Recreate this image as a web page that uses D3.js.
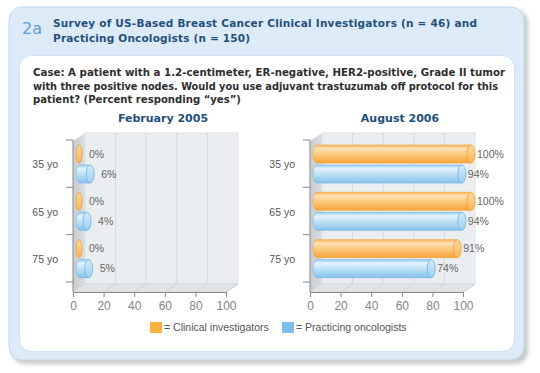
<!DOCTYPE html>
<html>
<head>
<meta charset="utf-8">
<script src="https://cdn.jsdelivr.net/npm/d3@7"></script>
<style>
  body { margin: 0; background: #fff; }
  svg { display: block; }
</style>
</head>
<body>
<div class="chart"></div>
<script>
// data
var ages = ["35 yo", "65 yo", "75 yo"];
var febClinical = [0, 0, 0];
var febOncologists = [6, 4, 5];
var augClinical = [100, 100, 91];
var augOncologists = [94, 94, 74];
var xTicks = [0, 20, 40, 60, 80, 100];

var svgWidth = 540, svgHeight = 373;

var svg = d3.select(".chart").append("svg")
  .attr("width", svgWidth)
  .attr("height", svgHeight);

var defs = svg.append("defs");

// soft shadow for the outer card
var f = defs.append("filter").attr("id", "blur").attr("x", "-5%").attr("y", "-5%").attr("width", "110%").attr("height", "110%");
f.append("feGaussianBlur").attr("stdDeviation", 2);

function vGrad(id, stops) {
  var g = defs.append("linearGradient").attr("id", id)
    .attr("x1", 0).attr("y1", 0).attr("x2", 0).attr("y2", 1);
  stops.forEach(function(s) {
    g.append("stop").attr("offset", s[0]).attr("stop-color", s[1]);
  });
}
vGrad("gOrange", [[0, "#f9b75a"], [0.2, "#fee2b6"], [0.6, "#fcc272"], [1, "#f7a53a"]]);
vGrad("gBlue", [[0, "#9dcff1"], [0.2, "#e4f2fc"], [0.6, "#b5dcf5"], [1, "#86c3ec"]]);
vGrad("gOrangeCap", [[0, "#fdd9a0"], [1, "#fbb656"]]);
vGrad("gBlueCap", [[0, "#d5ecfa"], [1, "#9ccff0"]]);
var sg = defs.append("linearGradient").attr("id", "gSide")
  .attr("x1", 0).attr("y1", 0).attr("x2", 1).attr("y2", 0);
sg.append("stop").attr("offset", 0).attr("stop-color", "#c9cdd1");
sg.append("stop").attr("offset", 1).attr("stop-color", "#d9dde0");

// card
svg.append("rect")
  .attr("x", 12).attr("y", 10).attr("width", 516).attr("height", 354)
  .attr("rx", 13).attr("fill", "#c8c8c8").attr("filter", "url(#blur)");
svg.append("rect")
  .attr("x", 9).attr("y", 7).attr("width", 515).attr("height", 353)
  .attr("rx", 13).attr("fill", "#dcebf7").attr("stroke", "#c3dbef");
svg.append("rect")
  .attr("x", 19.5).attr("y", 55.5).attr("width", 495).attr("height", 296)
  .attr("rx", 12).attr("fill", "#fff").attr("stroke", "#cde2f3");

// header
svg.append("text")
  .attr("x", 22).attr("y", 34)
  .attr("font-family", "DejaVu Sans, sans-serif").attr("font-size", 16)
  .attr("fill", "#5d9fd6").text("2a");

var titleLines = [
  ["Survey of US-Based Breast Cancer Clinical Investigators (n = 46) and", 424],
  ["Practicing Oncologists (n = 150)", 197]
];
titleLines.forEach(function(l, i) {
  svg.append("text")
    .attr("x", 53).attr("y", 27 + i * 15)
    .attr("font-family", "DejaVu Sans, sans-serif").attr("font-weight", "bold")
    .attr("font-size", 10.5).attr("fill", "#22507c")
    .attr("textLength", l[1]).attr("lengthAdjust", "spacing")
    .text(l[0]);
});

var caseLines = [
  ["Case: A patient with a 1.2-centimeter, ER-negative, HER2-positive, Grade II tumor", 472],
  ["with three positive nodes. Would you use adjuvant trastuzumab off protocol for this", 465],
  ["patient? (Percent responding \u201cyes\u201d)", 208]
];
caseLines.forEach(function(l, i) {
  svg.append("text")
    .attr("x", 33).attr("y", 76 + i * 13.5)
    .attr("font-family", "DejaVu Sans, sans-serif").attr("font-weight", "bold")
    .attr("font-size", 10.5).attr("fill", "#2e2e2e")
    .attr("textLength", l[1]).attr("lengthAdjust", "spacingAndGlyphs")
    .text(l[0]);
});

// panels
var depth = { dx: 12, dy: -8 };
var panels = [
  { title: "February 2005", x0: 73, clinical: febClinical, onc: febOncologists, gap: 7 },
  { title: "August 2006", x0: 310, clinical: augClinical, onc: augOncologists, gap: 2 }
];
var plotTop = 141, plotBottom = 292;

panels.forEach(function(p) {
  var g = svg.append("g");
  var x = d3.scaleLinear().domain([0, 100]).range([p.x0, p.x0 + 153]);
  var y = d3.scaleBand().domain(ages).range([140, 282]);
  var x1 = x(100);

  // side wall
  g.append("polygon")
    .attr("points", [[p.x0, plotTop], [p.x0 + depth.dx, plotTop + depth.dy],
      [p.x0 + depth.dx, plotBottom + depth.dy], [p.x0, plotBottom]].join(" "))
    .attr("fill", "url(#gSide)");
  // back wall
  g.append("rect")
    .attr("x", p.x0 + depth.dx).attr("y", plotTop + depth.dy)
    .attr("width", x1 - p.x0).attr("height", plotBottom - plotTop)
    .attr("fill", "#ebeef0").attr("stroke", "#dfe2e5");
  // floor
  g.append("polygon")
    .attr("points", [[p.x0, plotBottom], [p.x0 + depth.dx, plotBottom + depth.dy],
      [x1 + depth.dx, plotBottom + depth.dy], [x1, plotBottom]].join(" "))
    .attr("fill", "#e2e5e8").attr("stroke", "#d3d7db");

  // grid lines on back wall and floor
  g.selectAll(".grid").data(xTicks.slice(1, -1)).enter().append("line")
    .attr("x1", function(d) { return x(d) + depth.dx; })
    .attr("x2", function(d) { return x(d) + depth.dx; })
    .attr("y1", plotTop + depth.dy).attr("y2", plotBottom + depth.dy)
    .attr("stroke", "#d6dade");
  g.selectAll(".fgrid").data(xTicks.slice(1)).enter().append("line")
    .attr("x1", function(d) { return x(d); })
    .attr("x2", function(d) { return x(d) + depth.dx; })
    .attr("y1", plotBottom).attr("y2", plotBottom + depth.dy)
    .attr("stroke", "#cfd3d7");

  // axes
  var bottomAxis = d3.axisBottom(x).tickValues(xTicks).tickSize(5).tickSizeOuter(0);
  var ax = g.append("g").attr("transform", "translate(0," + plotBottom + ")").call(bottomAxis);
  ax.select(".domain").attr("stroke", "#8a8a8a");
  ax.selectAll(".tick line").attr("stroke", "#8a8a8a");
  ax.selectAll(".tick text")
    .attr("font-family", "Liberation Sans, sans-serif").attr("font-size", 12)
    .attr("fill", "#858585").attr("dy", "0.85em");

  g.append("line")
    .attr("x1", p.x0).attr("x2", p.x0).attr("y1", 140).attr("y2", plotBottom)
    .attr("stroke", "#8a8a8a");
  g.selectAll(".ytick").data([140].concat(ages.map(function(a) { return y(a) + y.bandwidth(); })))
    .enter().append("line")
    .attr("x1", p.x0 - 7).attr("x2", p.x0)
    .attr("y1", function(d) { return d; }).attr("y2", function(d) { return d; })
    .attr("stroke", "#8a8a8a");
  g.selectAll(".ylab").data(ages).enter().append("text")
    .attr("x", p.x0 - 15)
    .attr("y", function(d) { return y(d) + y.bandwidth() / 2 + 1; })
    .attr("dy", "0.35em").attr("text-anchor", "end")
    .attr("font-family", "Liberation Sans, sans-serif").attr("font-size", 10.5)
    .attr("fill", "#555").text(function(d) { return d; });

  // cylinders
  var barH = 18, rx = 4;
  var rows = [];
  ages.forEach(function(a, i) {
    rows.push({ v: p.clinical[i], cy: y(a) + 14, fill: "url(#gOrange)", cap: "url(#gOrangeCap)", edge: "#f5a030" });
    rows.push({ v: p.onc[i], cy: y(a) + 34, fill: "url(#gBlue)", cap: "url(#gBlueCap)", edge: "#6fb3e4" });
  });

  rows.forEach(function(r) {
    var top = r.cy - barH / 2, bot = r.cy + barH / 2;
    var left = p.x0 + 3 + rx;
    var capX;
    if (r.v > 0) {
      capX = x(r.v) + 12 - rx;
      g.append("path")
        .attr("d", "M" + capX + "," + top + " L" + left + "," + top +
          " A" + rx + "," + (barH / 2) + " 0 0 0 " + left + "," + bot +
          " L" + capX + "," + bot + " Z")
        .attr("fill", r.fill).attr("stroke", r.edge).attr("stroke-width", 0.6);
      g.append("ellipse")
        .attr("cx", capX).attr("cy", r.cy).attr("rx", rx).attr("ry", barH / 2)
        .attr("fill", r.cap).attr("stroke", r.edge).attr("stroke-width", 0.8);
    } else {
      capX = left - 1;
      g.append("ellipse")
        .attr("cx", capX).attr("cy", r.cy).attr("rx", 3).attr("ry", barH / 2)
        .attr("fill", r.cap).attr("stroke", r.edge).attr("stroke-width", 0.8);
    }
    g.append("text")
      .attr("x", capX + (r.v > 0 ? rx : 3) + p.gap)
      .attr("y", r.cy).attr("dy", "0.35em")
      .attr("font-family", "Liberation Sans, sans-serif").attr("font-size", 10.5)
      .attr("fill", "#666").text(r.v + "%");
  });

  // panel title
  g.append("text")
    .attr("x", p.x0 + 90).attr("y", 122)
    .attr("text-anchor", "middle")
    .attr("font-family", "DejaVu Sans, sans-serif").attr("font-weight", "bold")
    .attr("font-size", 11).attr("fill", "#22507c")
    .text(p.title);
});

// legend
var legend = [
  { label: "= Clinical investigators", color: "#fbb040", x: 150 },
  { label: "= Practicing oncologists", color: "#7dbfea", x: 282 }
];
legend.forEach(function(l) {
  svg.append("rect")
    .attr("x", l.x).attr("y", 322).attr("width", 12).attr("height", 11)
    .attr("fill", l.color);
  svg.append("text")
    .attr("x", l.x + 14).attr("y", 331)
    .attr("font-family", "Liberation Sans, sans-serif").attr("font-size", 10.5)
    .attr("fill", "#555").text(l.label);
});
</script>
</body>
</html>
